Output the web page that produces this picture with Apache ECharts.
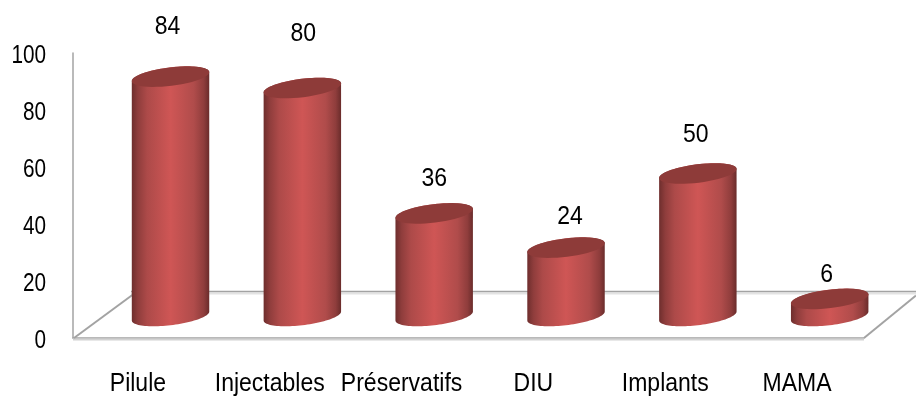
<!DOCTYPE html>
<html>
<head>
<meta charset="utf-8">
<style>html,body{margin:0;padding:0;background:#fff}#chart{width:916px;height:396px}</style>
<script src="https://cdn.jsdelivr.net/npm/echarts@6/dist/echarts.min.js"></script>
</head>
<body>
<div id="chart"></div>
<script>
// Contraceptive methods and their counts
const categories = ['Pilule', 'Injectables', 'Préservatifs', 'DIU', 'Implants', 'MAMA'];
const values = [84, 80, 36, 24, 50, 6];
const yTicks = [0, 20, 40, 60, 80, 100];

// Oblique projection of the 3D scene
const DEPTH_X = 31.6, DEPTH_Y = 22, BACK_Y = 46.5;
const RADIUS_A = 39, RADIUS_B = 9.2, TILT = 7 * Math.PI / 180;
const FONT = '25px "Liberation Sans", Arial, sans-serif';
// Condensed lettering: horizontal squeeze per kind of label
const SQUEEZE_TICK = 0.83, SQUEEZE_NAME = 0.92, SQUEEZE_VALUE = 0.92;
// Hand placement of the value captions above each cylinder: [dx, dy]
const captionShift = [[-3, -49], [1, -54], [0, -34], [4, -30], [-2, -38], [-3, -24]];

function ellipsePoint(cx, cy, t) {
  return [
    cx + RADIUS_A * Math.cos(t) * Math.cos(TILT) + RADIUS_B * Math.sin(t) * Math.sin(TILT),
    cy - RADIUS_A * Math.cos(t) * Math.sin(TILT) + RADIUS_B * Math.sin(t) * Math.cos(TILT)
  ];
}
function ellipseArc(cx, cy, from, to) {
  const pts = [];
  for (let i = 0; i <= 48; i++) pts.push(ellipsePoint(cx, cy, from + (to - from) * i / 48));
  return pts;
}
function squeezedText(text, x, y, squeeze, align) {
  return {
    type: 'text', x: x, y: y, scaleX: squeeze,
    style: { text: text, x: 0, y: 0, align: align || 'center', verticalAlign: 'middle', font: FONT, fill: '#000000' }
  };
}

const bodyFill = {
  type: 'linear', x: 0, y: 0, x2: 1, y2: 0,
  colorStops: [
    { offset: 0, color: '#6e2e2d' },
    { offset: 0.08, color: '#8f3d3c' },
    { offset: 0.2, color: '#ad4a49' },
    { offset: 0.5, color: '#cf5655' },
    { offset: 0.8, color: '#b04c4b' },
    { offset: 0.93, color: '#8f3d3c' },
    { offset: 1, color: '#6a2c2b' }
  ]
};

function renderFloor(params) {
  const c = params.coordSys;
  const left = c.x, right = c.x + c.width, bottom = c.y + c.height;
  const back = bottom - BACK_Y;
  const line = { stroke: '#a3a3a3', lineWidth: 2, fill: null };
  return {
    type: 'group',
    children: [
      { type: 'rect', shape: { x: left + 58, y: back + 1, width: right + 52 - left - 58, height: 2 }, style: { fill: '#e3e3e3' } },
      { type: 'rect', shape: { x: left, y: bottom + 0.5, width: c.width, height: 2 }, style: { fill: '#d2d2d2' } },
      { type: 'polyline', shape: { points: [[left + 1, bottom], [left + 60, back + 3]] }, style: line },
      { type: 'polyline', shape: { points: [[left + 58, back], [right + 52, back]] }, style: { stroke: '#a3a3a3', lineWidth: 1.5, fill: null } },
      { type: 'polyline', shape: { points: [[right, bottom], [right + 52, back + 4]] }, style: line }
    ]
  };
}

function renderCylinder(params, api) {
  const i = api.value(0);
  const foot = api.coord([i, 0]);
  const head = api.coord([i, api.value(1)]);
  const cx = foot[0] + DEPTH_X;
  const baseY = foot[1] - DEPTH_Y;
  const topY = head[1] - DEPTH_Y;
  const t0 = Math.atan2(RADIUS_B * Math.sin(TILT), RADIUS_A * Math.cos(TILT));
  const body = ellipseArc(cx, baseY, t0, t0 + Math.PI)
    .concat(ellipseArc(cx, topY, t0 + Math.PI, t0 + 2 * Math.PI));
  const shift = captionShift[params.dataIndex];
  return {
    type: 'group',
    children: [
      { type: 'polygon', shape: { points: body }, style: { fill: bodyFill } },
      { type: 'polygon', shape: { points: ellipseArc(cx, topY, 0, 2 * Math.PI) }, style: { fill: '#8e3b39' } },
      squeezedText(String(api.value(1)), cx + shift[0], topY + shift[1], SQUEEZE_VALUE)
    ]
  };
}

// Category names under the front edge of the floor
function renderCategoryName(params, api) {
  const p = api.coord([api.value(0), 0]);
  return squeezedText(categories[params.dataIndex], p[0] - 1, p[1] + 46, SQUEEZE_NAME);
}
// Value scale figures, right-aligned beside the axis line
function renderTickLabel(params, api) {
  const p = api.coord([0, api.value(1)]);
  return squeezedText(String(api.value(1)), params.coordSys.x - 27, p[1] + 3, SQUEEZE_TICK, 'right');
}

const chart = echarts.init(document.getElementById('chart'), null, { renderer: 'canvas' });
chart.setOption({
  animation: false,
  backgroundColor: '#ffffff',
  grid: { left: 73, right: 52, top: 53, bottom: 58, containLabel: false },
  xAxis: {
    type: 'category',
    data: categories,
    axisLine: { show: true, lineStyle: { color: '#a3a3a3', width: 1.5 } },
    axisTick: { show: false },
    axisLabel: { show: false }
  },
  yAxis: {
    type: 'value',
    min: yTicks[0],
    max: yTicks[yTicks.length - 1],
    interval: yTicks[1] - yTicks[0],
    splitLine: { show: false },
    axisTick: { show: false },
    axisLine: { show: true, lineStyle: { color: '#a3a3a3', width: 1.5 } },
    axisLabel: { show: false }
  },
  series: [
    { type: 'custom', silent: true, z: 1, renderItem: renderFloor, data: [[0, 0]] },
    { type: 'custom', silent: true, z: 2, renderItem: renderCylinder,
      data: categories.map((c, i) => [c, values[i]]) },
    { type: 'custom', silent: true, z: 3, renderItem: renderCategoryName,
      data: categories.map((c) => [c, 0]) },
    { type: 'custom', silent: true, z: 3, renderItem: renderTickLabel,
      data: yTicks.map((t) => [0, t]) }
  ]
});
</script>
</body>
</html>
